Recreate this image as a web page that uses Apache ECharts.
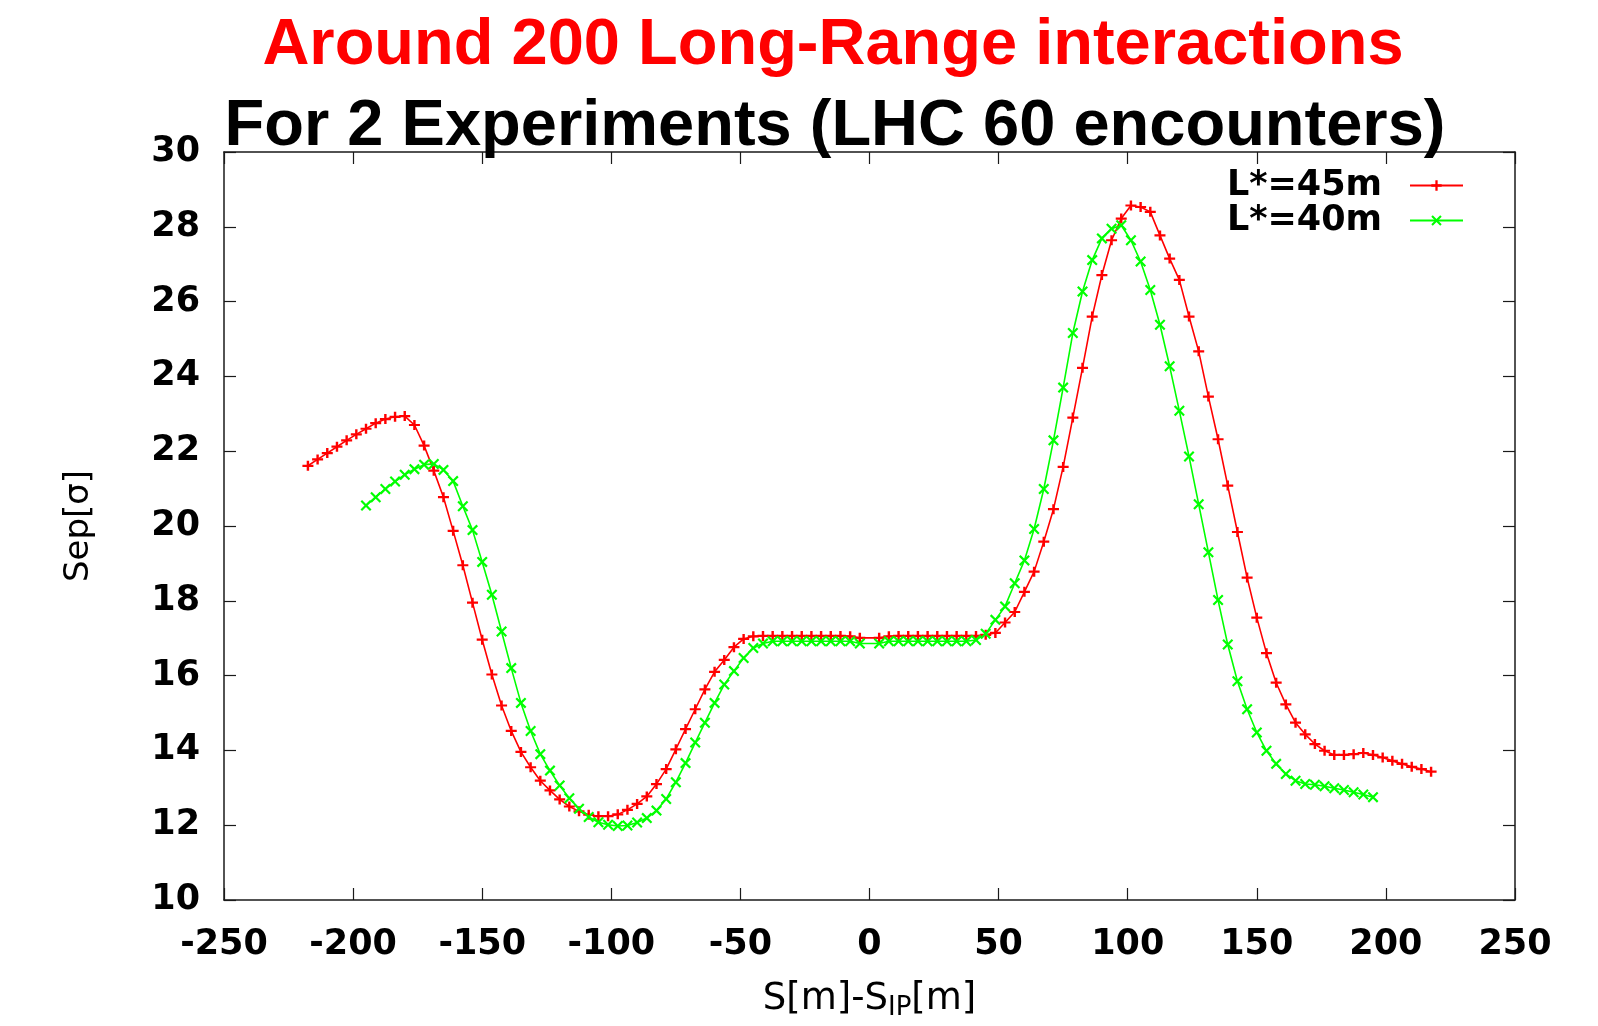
<!DOCTYPE html>
<html>
<head>
<meta charset="utf-8">
<title>Long-Range separation</title>
<script src="https://cdn.jsdelivr.net/npm/echarts@6/dist/echarts.min.js"></script>
<style>
  html, body { margin: 0; padding: 0; background: #ffffff; }
  #chart { width: 1598px; height: 1026px; }
</style>
</head>
<body>
<div id="chart"></div>
<script>
// Headline text
const titleLines = ['Around 200 Long-Range interactions', 'For 2 Experiments (LHC 60 encounters)'];
const seriesNames = ['L*=45m', 'L*=40m'];

// Axis ranges (ticks every 50 m and every 2 sigma)
const xRange = [-250, 250, 50];
const yRange = [10, 30, 2];

// Encounter positions S - S_IP [m] and beam-beam separation [sigma], L* = 45 m
const sRed = [
  -217.5, -213.75, -210, -206.25, -202.5, -198.75, -195, -191.25, -187.5, -183.75,
  -180, -176.25, -172.5, -168.75, -165, -161.25, -157.5, -153.75, -150, -146.25,
  -142.5, -138.75, -135, -131.25, -127.5, -123.75, -120, -116.25, -112.5, -108.75,
  -105, -101.25, -97.5, -93.75, -90, -86.25, -82.5, -78.75, -75, -71.25,
  -67.5, -63.75, -60, -56.25, -52.5, -48.75, -45, -41.25, -37.5, -33.75,
  -30, -26.25, -22.5, -18.75, -15, -11.25, -7.5, -3.75,
  3.75, 7.5, 11.25, 15, 18.75, 22.5, 26.25, 30, 33.75, 37.5,
  41.25, 45, 48.75, 52.5, 56.25, 60, 63.75, 67.5, 71.25, 75,
  78.75, 82.5, 86.25, 90, 93.75, 97.5, 101.25, 105, 108.75, 112.5,
  116.25, 120, 123.75, 127.5, 131.25, 135, 138.75, 142.5, 146.25, 150,
  153.75, 157.5, 161.25, 165, 168.75, 172.5, 176.25, 180, 183.75, 187.5,
  191.25, 195, 198.75, 202.5, 206.25, 210, 213.75, 217.5
];
const sepRed = [
  21.61, 21.78, 21.95, 22.12, 22.29, 22.45, 22.60, 22.75, 22.86, 22.92,
  22.94, 22.70, 22.15, 21.48, 20.77, 19.87, 18.95, 17.95, 16.96, 16.03,
  15.20, 14.52, 13.96, 13.55, 13.19, 12.93, 12.69, 12.50, 12.37, 12.28,
  12.24, 12.24, 12.29, 12.41, 12.57, 12.77, 13.10, 13.50, 14.03, 14.57,
  15.10, 15.63, 16.10, 16.42, 16.76, 16.98, 17.05, 17.06, 17.06, 17.06,
  17.06, 17.06, 17.06, 17.06, 17.06, 17.06, 17.05, 17.01,
  17.01, 17.05, 17.06, 17.06, 17.06, 17.06, 17.06, 17.06, 17.06, 17.06,
  17.06, 17.09, 17.14, 17.42, 17.70, 18.24, 18.78, 19.58, 20.45, 21.58,
  22.90, 24.23, 25.60, 26.71, 27.64, 28.22, 28.57, 28.53, 28.40, 27.77,
  27.15, 26.58, 25.60, 24.67, 23.46, 22.32, 21.08, 19.84, 18.62, 17.55,
  16.60, 15.81, 15.23, 14.74, 14.43, 14.17, 13.99, 13.88, 13.88, 13.90,
  13.93, 13.88, 13.81, 13.72, 13.64, 13.56, 13.50, 13.43
];

// Encounter positions and separation, L* = 40 m
const sGreen = [
  -195, -191.25, -187.5, -183.75, -180, -176.25, -172.5, -168.75, -165, -161.25,
  -157.5, -153.75, -150, -146.25, -142.5, -138.75, -135, -131.25, -127.5, -123.75,
  -120, -116.25, -112.5, -108.75, -105, -101.25, -97.5, -93.75, -90, -86.25,
  -82.5, -78.75, -75, -71.25, -67.5, -63.75, -60, -56.25, -52.5, -48.75,
  -45, -41.25, -37.5, -33.75, -30, -26.25, -22.5, -18.75, -15, -11.25,
  -7.5, -3.75,
  3.75, 7.5, 11.25, 15, 18.75, 22.5, 26.25, 30, 33.75, 37.5,
  41.25, 45, 48.75, 52.5, 56.25, 60, 63.75, 67.5, 71.25, 75,
  78.75, 82.5, 86.25, 90, 93.75, 97.5, 101.25, 105, 108.75, 112.5,
  116.25, 120, 123.75, 127.5, 131.25, 135, 138.75, 142.5, 146.25, 150,
  153.75, 157.5, 161.25, 165, 168.75, 172.5, 176.25, 180, 183.75, 187.5,
  191.25, 195
];
const sepGreen = [
  20.55, 20.77, 20.99, 21.19, 21.37, 21.52, 21.64, 21.66, 21.50, 21.20,
  20.53, 19.89, 19.04, 18.16, 17.18, 16.20, 15.27, 14.52, 13.90, 13.46,
  13.06, 12.72, 12.44, 12.22, 12.08, 12.01, 11.98, 11.99, 12.07, 12.19,
  12.39, 12.70, 13.15, 13.66, 14.21, 14.74, 15.27, 15.76, 16.12, 16.47,
  16.74, 16.86, 16.92, 16.92, 16.92, 16.92, 16.92, 16.92, 16.92, 16.92,
  16.92, 16.86,
  16.86, 16.92, 16.92, 16.92, 16.92, 16.92, 16.92, 16.92, 16.92, 16.92,
  16.95, 17.12, 17.49, 17.85, 18.47, 19.08, 19.92, 20.99, 22.29, 23.70,
  25.16, 26.27, 27.11, 27.69, 27.95, 28.04, 27.64, 27.07, 26.31, 25.38,
  24.27, 23.08, 21.86, 20.58, 19.30, 18.02, 16.83, 15.85, 15.10, 14.48,
  13.99, 13.64, 13.37, 13.19, 13.10, 13.08, 13.04, 12.99, 12.94, 12.88,
  12.82, 12.75
];

// Point markers: "+" and "x"
const plusMark = 'path://M0,3.9 L3.9,3.9 L3.9,0 L6.1,0 L6.1,3.9 L10,3.9 L10,6.1 L6.1,6.1 L6.1,10 L3.9,10 L3.9,6.1 L0,6.1 Z';
const crossMark = 'path://M0,1.4 L1.4,0 L5,3.6 L8.6,0 L10,1.4 L6.4,5 L10,8.6 L8.6,10 L5,6.4 L1.4,10 L0,8.6 L3.6,5 Z';

const frameColor = '#1a1a1a';
const plotFont = 'DejaVu Sans';
const tickLabel = { fontFamily: plotFont, fontWeight: 'bold', fontSize: 35, color: '#000' };

function pairs(xs, ys) { return xs.map((x, i) => [x, ys[i]]); }

function xAxisDef(pos, withLabels) {
  return {
    type: 'value', position: pos,
    min: xRange[0], max: xRange[1], interval: xRange[2],
    axisLine: { show: true, onZero: false, lineStyle: { color: frameColor, width: 1.5 } },
    axisTick: { show: true, inside: true, length: 12, lineStyle: { color: frameColor, width: 1.2 } },
    axisLabel: Object.assign({ show: withLabels, margin: 27 }, tickLabel),
    splitLine: { show: false }
  };
}
function yAxisDef(pos, withLabels) {
  return {
    type: 'value', position: pos,
    min: yRange[0], max: yRange[1], interval: yRange[2],
    axisLine: { show: true, onZero: false, lineStyle: { color: frameColor, width: 1.5 } },
    axisTick: { show: true, inside: true, length: 12, lineStyle: { color: frameColor, width: 1.2 } },
    axisLabel: Object.assign({ show: withLabels, margin: 24 }, tickLabel),
    splitLine: { show: false }
  };
}

const xMain = xAxisDef('bottom', true);
xMain.name = '{m|S[m]-S}{sub|IP}{m|[m]}';
xMain.nameLocation = 'middle';
xMain.nameGap = 77;
xMain.nameTextStyle = {
  fontFamily: plotFont, fontSize: 37, color: '#000',
  rich: {
    m: { fontFamily: plotFont, fontSize: 37, color: '#000' },
    sub: { fontFamily: plotFont, fontSize: 26, color: '#000', padding: [18, 0, 0, 0] }
  }
};

const yMain = yAxisDef('left', true);
yMain.name = 'Sep[σ]';
yMain.nameLocation = 'middle';
yMain.nameGap = 128;
yMain.nameTextStyle = { fontFamily: plotFont, fontSize: 34, color: '#000' };

const chart = echarts.init(document.getElementById('chart'), null, { renderer: 'canvas' });
chart.setOption({
  animation: false,
  backgroundColor: '#ffffff',
  title: [
    {
      text: titleLines[0], left: 833, top: 46, padding: 0,
      textAlign: 'center', textVerticalAlign: 'middle',
      textStyle: { fontFamily: 'Liberation Sans', fontWeight: 'bold', fontSize: 65, color: '#ff0000' }
    },
    {
      text: titleLines[1], left: 835, top: 127, padding: 0,
      textAlign: 'center', textVerticalAlign: 'middle',
      textStyle: { fontFamily: 'Liberation Sans', fontWeight: 'bold', fontSize: 65, color: '#000000' }
    }
  ],
  grid: { left: 224, right: 83, top: 152, bottom: 122, containLabel: false },
  legend: {
    data: seriesNames,
    orient: 'vertical', right: 134, top: 168, padding: 0,
    align: 'right', itemWidth: 53, itemHeight: 13, itemGap: 0,
    selectedMode: false,
    textStyle: { fontFamily: plotFont, fontWeight: 'bold', fontSize: 35, lineHeight: 31, color: '#000', padding: [0, 23, 0, 0] }
  },
  xAxis: [xMain, xAxisDef('top', false)],
  yAxis: [yMain, yAxisDef('right', false)],
  series: [
    {
      name: seriesNames[0], type: 'line',
      data: pairs(sRed, sepRed),
      symbol: plusMark, symbolSize: [11, 10],
      lineStyle: { color: '#ff0000', width: 1.6 },
      itemStyle: { color: '#ff0000' },
      emphasis: { disabled: true }
    },
    {
      name: seriesNames[1], type: 'line',
      data: pairs(sGreen, sepGreen),
      symbol: crossMark, symbolSize: [11, 11],
      lineStyle: { color: '#00ff00', width: 1.6 },
      itemStyle: { color: '#00ff00' },
      emphasis: { disabled: true }
    }
  ]
});
</script>
</body>
</html>
